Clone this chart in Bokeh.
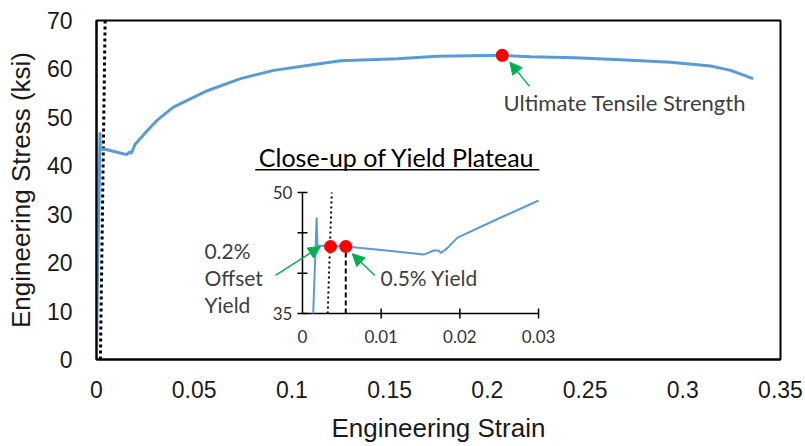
import math
from bokeh.plotting import figure
from bokeh.models import Range1d, FixedTicker, NumeralTickFormatter, Arrow, NormalHead, Label
from bokeh.core.properties import value
from bokeh.embed import file_html
from bokeh.resources import INLINE

# ---------------- data ----------------
strain = [0, 0.0006, 0.00136, 0.0018, 0.0019, 0.0035, 0.0055, 0.0116, 0.0154, 0.0167,
          0.0173, 0.0176, 0.0184, 0.0197, 0.025, 0.03, 0.0328, 0.0394, 0.0464, 0.0567,
          0.0737, 0.0907, 0.1078, 0.1249, 0.1539, 0.1743, 0.2076, 0.2221, 0.245, 0.2682,
          0.2938, 0.3142, 0.3245, 0.336]
stress = [0, 20, 35, 46.9, 43.4, 43.4, 43.3, 42.7, 42.3, 42.8,
          42.8, 42.5, 43.1, 44.4, 46.8, 49.0, 50.0, 52.1, 53.5, 55.5,
          58.0, 59.7, 60.7, 61.7, 62.1, 62.6, 62.8, 62.5, 62.3, 61.9,
          61.4, 60.6, 59.7, 58.0]

x_ticks = [0, 0.05, 0.1, 0.15, 0.2, 0.25, 0.3, 0.35]
y_ticks = [0, 10, 20, 30, 40, 50, 60, 70]

uts_strain, uts_stress = 0.2076, 62.8
offset_yield_strain, offset_yield_stress = 0.00356, 43.3
yield05_strain, yield05_stress = 0.0055, 43.3
offset_strain = 0.002
modulus_ksi = 29000.0

inset_x_ticks = [0, 0.01, 0.02, 0.03]
inset_x_labels = ["0", "0.01", "0.02", "0.03"]
inset_y_ticks = [35, 40, 45, 50]
inset_y_labeled = [35, 50]
inset_y_labels = ["35", "50"]
inset_x_lim = (0, 0.03)
inset_y_lim = (35, 50)

title_text = "Close-up of Yield Plateau"
uts_text = "Ultimate Tensile Strength"
offset_text_lines = ["0.2%", "Offset", "Yield"]
y05_text = "0.5% Yield"

# ---------------- styling ----------------
BLUE = "#5B9BD5"
GREEN = "#00B050"
RED = "#FF0000"
TXT = "#404040"
AXF = "Liberation Sans"
ANF = "Lato"

p = figure(width=805, height=446, output_backend="svg", toolbar_location=None,
           x_range=Range1d(0, 0.35), y_range=Range1d(0, 70),
           min_border_left=96, min_border_right=25, min_border_top=20, min_border_bottom=87,
           x_axis_label="Engineering Strain", y_axis_label="Engineering Stress (ksi)")
p.grid.visible = False
p.outline_line_color = "black"
p.outline_line_width = 2
p.background_fill_color = "white"
p.border_fill_color = "white"

for ax in (p.xaxis[0], p.yaxis[0]):
    ax.axis_line_color = "black"
    ax.axis_line_width = 2
    ax.major_tick_line_color = None
    ax.minor_tick_line_color = None
    ax.major_tick_in = 0
    ax.major_tick_out = 0
    ax.minor_tick_in = 0
    ax.minor_tick_out = 0
    ax.major_label_text_font = AXF
    ax.major_label_text_font_size = "23px"
    ax.major_label_text_color = "#1a1a1a"
    ax.axis_label_text_font = AXF
    ax.axis_label_text_font_size = "26px"
    ax.axis_label_text_font_style = "normal"
    ax.axis_label_text_color = "#1a1a1a"

p.xaxis.ticker = FixedTicker(ticks=x_ticks)
p.xaxis.formatter = NumeralTickFormatter(format="0.[00]")
p.yaxis.ticker = FixedTicker(ticks=y_ticks)
p.xaxis.major_label_standoff = 21
p.xaxis.axis_label_standoff = 12
p.yaxis.major_label_standoff = 24
p.yaxis.axis_label_standoff = 8

# ---------------- main chart ----------------
p.line([offset_strain + s / modulus_ksi for s in (y_ticks[0], y_ticks[-1])],
       [y_ticks[0], y_ticks[-1]], line_color="black", line_width=3, line_dash="3 3")
p.line(strain, stress, line_color=BLUE, line_width=3)
p.scatter([uts_strain], [uts_stress], size=13, fill_color=RED, line_color=None)

p.add_layout(Arrow(end=NormalHead(size=12, fill_color=GREEN, line_color=GREEN, line_width=1),
                   x_start=uts_strain + 0.014, y_start=uts_stress - 6.4,
                   x_end=uts_strain + 0.0039, y_end=uts_stress - 1.4,
                   line_color=GREEN, line_width=1.5))
p.add_layout(Label(x=uts_strain + 0.0007, y=uts_stress - 9.63, text=uts_text,
                   text_font=ANF, text_font_size="22px", text_color=TXT,
                   text_baseline="middle", text_align="left"))

# ---------------- inset (own scales inside the same frame) ----------------
# inset box in main-data coordinates
bx0, bx1, by0, by1 = 0.1054, 0.2262, 9.5, 34.5
sx = (inset_x_lim[1] - inset_x_lim[0]) / (bx1 - bx0)
sy = (inset_y_lim[1] - inset_y_lim[0]) / (by1 - by0)
p.extra_x_ranges = {"ix": Range1d(inset_x_lim[0] - (bx0 - 0) * sx, inset_x_lim[1] + (0.35 - bx1) * sx)}
p.extra_y_ranges = {"iy": Range1d(inset_y_lim[0] - (by0 - 0) * sy, inset_y_lim[1] + (70 - by1) * sy)}
R = dict(x_range_name="ix", y_range_name="iy")

ins_x = [x for x, y in zip(strain, stress) if x <= inset_x_lim[1] and y >= inset_y_lim[0]]
ins_y = [y for x, y in zip(strain, stress) if x <= inset_x_lim[1] and y >= inset_y_lim[0]]

# axes
p.line([0, 0], list(inset_y_lim), line_color="black", line_width=1.5, **R)
p.line(list(inset_x_lim), [inset_y_lim[0]] * 2, line_color="black", line_width=1.5, **R)
p.scatter([0] * len(inset_y_ticks), inset_y_ticks, marker="dash", size=10,
          line_color="black", line_width=1.5, **R)
p.scatter(inset_x_ticks[1:], [inset_y_lim[0]] * (len(inset_x_ticks) - 1), marker="dash",
          angle=math.pi / 2, size=10, line_color="black", line_width=1.5, **R)
p.text([0] * len(inset_y_labeled), inset_y_labeled, text=inset_y_labels, x_offset=-10,
       text_align="right", text_baseline="middle", text_font=value(ANF),
       text_font_size="17px", text_color="#333333", **R)
p.text(inset_x_ticks, [inset_y_lim[0]] * len(inset_x_ticks), text=inset_x_labels, y_offset=23,
       text_align="center", text_baseline="middle", text_font=value(ANF),
       text_font_size="17px", text_color="#333333", **R)

# offset & 0.5% lines
p.line([offset_strain + s / modulus_ksi for s in inset_y_lim], list(inset_y_lim),
       line_color="black", line_width=2, line_dash="2 3", **R)
p.line([yield05_strain] * 2, [inset_y_lim[0], yield05_stress], line_color="black",
       line_width=2, line_dash="5 3", **R)
p.line(ins_x, ins_y, line_color=BLUE, line_width=2, **R)
p.scatter([offset_yield_strain, yield05_strain], [offset_yield_stress, yield05_stress],
          size=13, fill_color=RED, line_color=None, **R)

# inset title with underline
p.text([0.012], [54.40], text=[title_text], text_align="center", text_baseline="middle",
       text_font=value(ANF), text_font_size="25px", text_color="black", **R)
p.line([-0.006, 0.0301], [52.81, 52.81], line_color="black", line_width=1.5, **R)

# inset annotations
for line_text, yc in zip(offset_text_lines, [42.75, 39.46, 36.12]):
    p.text([-0.01246], [yc], text=[line_text], text_align="left", text_baseline="middle",
           text_font=value(ANF), text_font_size="21px", text_color=TXT, **R)
p.text([0.00992], [39.46], text=[y05_text], text_align="left", text_baseline="middle",
       text_font=value(ANF), text_font_size="21px", text_color=TXT, **R)

p.add_layout(Arrow(end=NormalHead(size=12, fill_color=GREEN, line_color=GREEN, line_width=1),
                   x_start=-0.00343, y_start=39.71,
                   x_end=offset_yield_strain - 0.00127, y_end=offset_yield_stress,
                   line_color=GREEN, line_width=1.5, **R))
p.add_layout(Arrow(end=NormalHead(size=12, fill_color=GREEN, line_color=GREEN, line_width=1),
                   x_start=yield05_strain + 0.00369, y_start=39.71,
                   x_end=yield05_strain + 0.00082, y_end=yield05_stress - 0.9,
                   line_color=GREEN, line_width=1.5, **R))

open("out.html", "w").write(file_html(p, INLINE))
